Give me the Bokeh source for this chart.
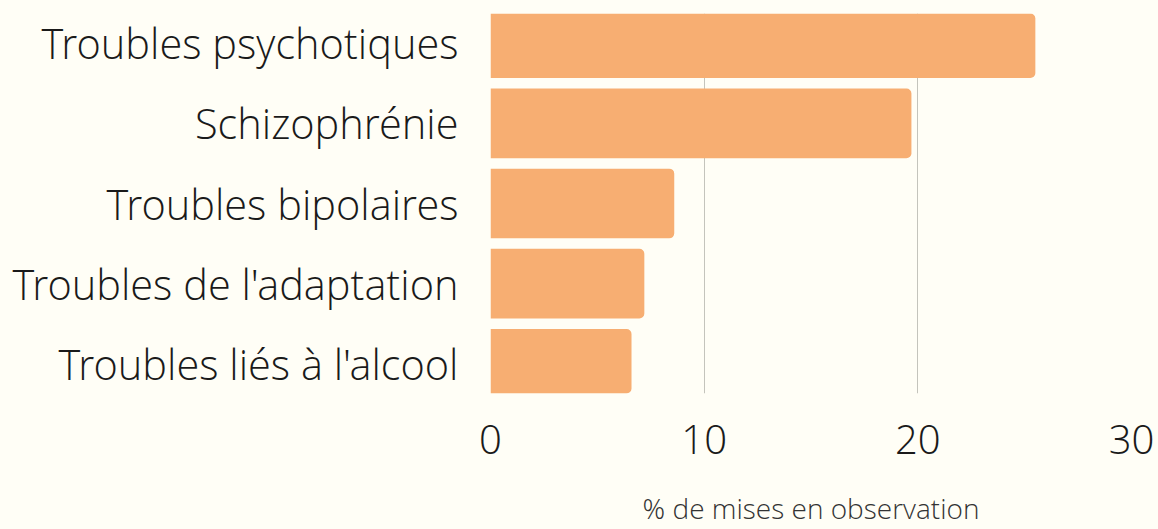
from bokeh.plotting import figure
from bokeh.models import FactorRange, Range1d, FixedTicker, ColumnDataSource
from bokeh.embed import file_html
from bokeh.resources import INLINE

categories = ["Troubles psychotiques", "Schizophrénie", "Troubles bipolaires",
              "Troubles de l'adaptation", "Troubles liés à l'alcool"]
values = [25.5, 19.7, 8.6, 7.2, 6.6]
x_ticks = [0, 10, 20, 30]
x_title = "% de mises en observation"

BG = "#FFFEF6"
BAR = "#F7AE72"
FONT = "Open Sans Light"

src = ColumnDataSource(dict(cat=categories, val=values))

p = figure(
    y_range=FactorRange(factors=list(reversed(categories)), range_padding=-0.13,
                        range_padding_units="absolute"),
    x_range=Range1d(0, 30),
    width=1158, height=529,
    output_backend="svg", toolbar_location=None,
    min_border_left=490, min_border_right=27, min_border_top=13, min_border_bottom=135,
    background_fill_color=BG, border_fill_color=BG, outline_line_color=None,
)

p.hbar(y="cat", right="val", left=0, height=0.87, source=src,
       fill_color=BAR, line_color=None, border_radius=(0, 5, 5, 0))

p.xgrid.ticker = FixedTicker(ticks=x_ticks)
p.xgrid.grid_line_color = "#C4C4BC"
p.xgrid.grid_line_width = 1
p.ygrid.grid_line_color = None

p.xaxis.ticker = FixedTicker(ticks=x_ticks)
p.xaxis.axis_line_color = None
p.xaxis.major_tick_line_color = None
p.xaxis.minor_tick_line_color = None
p.xaxis.major_tick_out = 0
p.xaxis.major_tick_in = 0
p.xaxis.minor_tick_out = 0
p.xaxis.major_label_text_font = FONT
p.xaxis.major_label_text_font_size = "40px"
p.xaxis.major_label_text_color = "#1a1a1a"
p.xaxis.major_label_standoff = 31
p.xaxis.axis_label = x_title
p.xaxis.axis_label_text_font = FONT
p.xaxis.axis_label_text_font_size = "28px"
p.xaxis.axis_label_text_font_style = "normal"
p.xaxis.axis_label_text_color = "#333333"
p.xaxis.axis_label_standoff = 32

p.yaxis.axis_line_color = None
p.yaxis.major_tick_line_color = None
p.yaxis.minor_tick_line_color = None
p.yaxis.major_tick_out = 0
p.yaxis.major_tick_in = 0
p.yaxis.minor_tick_out = 0
p.yaxis.major_label_text_font = FONT
p.yaxis.major_label_text_font_size = "41.5px"
p.yaxis.major_label_text_color = "#1a1a1a"
p.yaxis.major_label_standoff = 32

html = file_html(p, INLINE)
html = html.replace("<head>", "<head><style>body{background:%s;}</style>" % BG, 1)
open("out.html", "w").write(html)
